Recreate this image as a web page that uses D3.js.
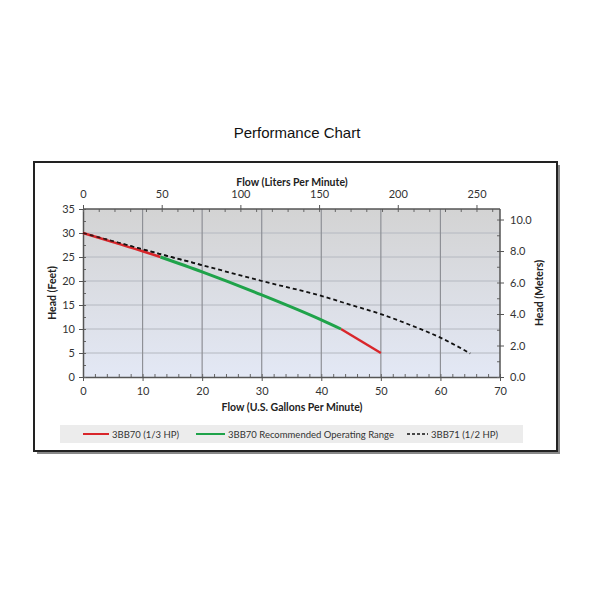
<!DOCTYPE html>
<html>
<head>
<meta charset="utf-8">
<script src="https://cdn.jsdelivr.net/npm/d3@7"></script>
<style>
  body { margin: 0; background: #fff; }
  svg text { font-family: Lato, "Open Sans", sans-serif; fill: #333; }
</style>
</head>
<body>
<svg id="canvas" width="590" height="590"></svg>
<script>
// gallons per minute vs head in feet
let redLowGpm = [0, 5, 10, 13];
let redLowHead = [30, 28.1, 26.2, 25];
let greenGpm = [13, 20, 30, 40, 43.3];
let greenHead = [25, 21.9, 17.1, 11.9, 10];
let redHighGpm = [43.3, 50];
let redHighHead = [10, 5];
let dashGpm = [0, 10, 20, 30, 40, 45, 50, 55, 60, 65];
let dashHead = [30, 26.6, 23.3, 20, 16.9, 15, 13.1, 10.8, 8.2, 4.9];

let gpmTicks = [0, 10, 20, 30, 40, 50, 60, 70];
let feetTicks = [0, 5, 10, 15, 20, 25, 30, 35];
let literTicks = [0, 50, 100, 150, 200, 250];
let meterTicks = [0, 2, 4, 6, 8, 10];

let legendNames = ["3BB70 (1/3 HP)", "3BB70 Recommended Operating Range", "3BB71 (1/2 HP)"];

let plot = { left: 83, right: 500, top: 209, bottom: 377 };
let canvas = d3.select("#canvas");

let x = d3.scaleLinear().domain([0, 70]).range([plot.left, plot.right]);
let y = d3.scaleLinear().domain([0, 35]).range([plot.bottom, plot.top]);
let xL = d3.scaleLinear().domain([0, 70 * 3.785]).range([plot.left, plot.right]);
let yM = d3.scaleLinear().domain([0, 35 * 0.3048]).range([plot.bottom, plot.top]);

// title
canvas.append("text")
  .attr("x", 297).attr("y", 138)
  .attr("text-anchor", "middle")
  .style("font-family", "'Liberation Sans', Arial, sans-serif")
  .style("font-size", "15px")
  .style("fill", "#111")
  .text("Performance Chart");

// outer box with shadow
canvas.append("rect")
  .attr("x", 37).attr("y", 165).attr("width", 523).attr("height", 289)
  .attr("fill", "#888");
canvas.append("rect")
  .attr("x", 34).attr("y", 162).attr("width", 523).attr("height", 289)
  .attr("fill", "#fff").attr("stroke", "#222").attr("stroke-width", 2);

// plot background gradient
let grad = canvas.append("defs").append("linearGradient")
  .attr("id", "bg").attr("x1", 0).attr("y1", 0).attr("x2", 0).attr("y2", 1);
grad.append("stop").attr("offset", "0%").attr("stop-color", "#d3d3d3");
grad.append("stop").attr("offset", "100%").attr("stop-color", "#e3e8f5");

canvas.append("rect")
  .attr("x", plot.left).attr("y", plot.top)
  .attr("width", plot.right - plot.left).attr("height", plot.bottom - plot.top)
  .attr("fill", "url(#bg)");

// grid
canvas.append("g").selectAll("line")
  .data(feetTicks.slice(1, -1))
  .enter().append("line")
  .attr("x1", plot.left).attr("x2", plot.right)
  .attr("y1", d => y(d)).attr("y2", d => y(d))
  .attr("stroke", "#b4b8c0").attr("stroke-width", 1);
canvas.append("g").selectAll("line")
  .data(gpmTicks.slice(1, -1))
  .enter().append("line")
  .attr("y1", plot.top).attr("y2", plot.bottom)
  .attr("x1", d => x(d)).attr("x2", d => x(d))
  .attr("stroke", "#8e9096").attr("stroke-width", 1.2);

// axes
let styleAxis = (g) => {
  g.select(".domain").attr("stroke", "#555").attr("stroke-width", 1.5);
  g.selectAll(".tick line").attr("stroke", "#555");
  g.selectAll(".tick text").style("font-size", "11px").style("fill", "#333");
};

canvas.append("g").attr("transform", `translate(0,${plot.bottom})`)
  .call(d3.axisBottom(x).tickValues(d3.range(0, 71, 2)).tickSize(-3).tickFormat(""))
  .call(g => g.select(".domain").remove())
  .selectAll("line").attr("stroke", "#666");
canvas.append("g").attr("transform", `translate(0,${plot.bottom})`)
  .call(d3.axisBottom(x).tickValues(gpmTicks).tickSize(4).tickPadding(6).tickSizeOuter(0))
  .call(styleAxis);

canvas.append("g").attr("transform", `translate(${plot.left},0)`)
  .call(d3.axisLeft(y).tickValues(d3.range(0, 35.1, 2.5)).tickSize(-3).tickFormat(""))
  .call(g => g.select(".domain").remove())
  .selectAll("line").attr("stroke", "#666");
canvas.append("g").attr("transform", `translate(${plot.left},0)`)
  .call(d3.axisLeft(y).tickValues(feetTicks).tickSize(4).tickPadding(4).tickSizeOuter(0))
  .call(styleAxis);

canvas.append("g").attr("transform", `translate(0,${plot.top})`)
  .call(d3.axisTop(xL).tickValues(d3.range(0, 261, 10)).tickSize(-3).tickFormat(""))
  .call(g => g.select(".domain").remove())
  .selectAll("line").attr("stroke", "#666");
canvas.append("g").attr("transform", `translate(0,${plot.top})`)
  .call(d3.axisTop(xL).tickValues(literTicks).tickSize(4).tickPadding(7).tickSizeOuter(0))
  .call(styleAxis)
  .call(g => g.select(".domain").attr("d", `M${plot.left},0H${plot.right}`));

canvas.append("g").attr("transform", `translate(${plot.right},0)`)
  .call(d3.axisRight(yM).tickValues(d3.range(0, 10.1, 1)).tickSize(-3).tickFormat(""))
  .call(g => g.select(".domain").remove())
  .selectAll("line").attr("stroke", "#666");
canvas.append("g").attr("transform", `translate(${plot.right},0)`)
  .call(d3.axisRight(yM).tickValues(meterTicks).tickSize(4).tickPadding(6).tickFormat(d3.format(".1f")).tickSizeOuter(0))
  .call(styleAxis)
  .call(g => g.select(".domain").attr("d", `M0,${plot.top}V${plot.bottom}`));

// axis titles
let titleStyle = (t) => t.style("font-size", "10.5px").style("font-weight", "bold").style("fill", "#222");
canvas.append("text").attr("x", 292).attr("y", 186).attr("text-anchor", "middle")
  .text("Flow (Liters Per Minute)").call(titleStyle);
canvas.append("text").attr("x", 292).attr("y", 411).attr("text-anchor", "middle")
  .text("Flow (U.S. Gallons Per Minute)").call(titleStyle);
canvas.append("text").attr("transform", "translate(56,293) rotate(-90)").attr("text-anchor", "middle")
  .text("Head (Feet)").call(titleStyle);
canvas.append("text").attr("transform", "translate(543,293) rotate(-90)").attr("text-anchor", "middle")
  .text("Head (Meters)").call(titleStyle);

// curves
let line = d3.line().x(d => x(d[0])).y(d => y(d[1])).curve(d3.curveMonotoneX);
let pairs = (a, b) => a.map((v, i) => [v, b[i]]);

canvas.append("path").datum(pairs(dashGpm, dashHead))
  .attr("d", line).attr("fill", "none")
  .attr("stroke", "#111").attr("stroke-width", 1.8).attr("stroke-dasharray", "4,3");
canvas.append("path").datum(pairs(redLowGpm, redLowHead))
  .attr("d", line).attr("fill", "none").attr("stroke", "#d9262b").attr("stroke-width", 2.5);
canvas.append("path").datum(pairs(redHighGpm, redHighHead))
  .attr("d", line).attr("fill", "none").attr("stroke", "#d9262b").attr("stroke-width", 2.5);
canvas.append("path").datum(pairs(greenGpm, greenHead))
  .attr("d", line).attr("fill", "none").attr("stroke", "#1fa34a").attr("stroke-width", 3);
// redraw the start of dashed line over red, as in the picture
canvas.append("path").datum(pairs(dashGpm.slice(0, 3), dashHead.slice(0, 3)))
  .attr("d", line).attr("fill", "none")
  .attr("stroke", "#111").attr("stroke-width", 1.6).attr("stroke-dasharray", "4,3")
  .attr("opacity", 0.8);

// legend
canvas.append("rect").attr("x", 60).attr("y", 425).attr("width", 463).attr("height", 18)
  .attr("fill", "#ececec");
let legendItems = [
  { x0: 83, x1: 109, color: "#d9262b", dash: null, width: 2 },
  { x0: 196, x1: 225, color: "#1fa34a", dash: null, width: 2 },
  { x0: 407, x1: 428, color: "#111", dash: "3,2", width: 1.5 }
];
legendItems.forEach((item, i) => {
  canvas.append("line").attr("x1", item.x0).attr("x2", item.x1).attr("y1", 434).attr("y2", 434)
    .attr("stroke", item.color).attr("stroke-width", item.width)
    .attr("stroke-dasharray", item.dash);
  canvas.append("text").attr("x", item.x1 + 3).attr("y", 437.5)
    .style("font-size", "9.5px").style("fill", "#333")
    .text(legendNames[i]);
});
</script>
</body>
</html>
